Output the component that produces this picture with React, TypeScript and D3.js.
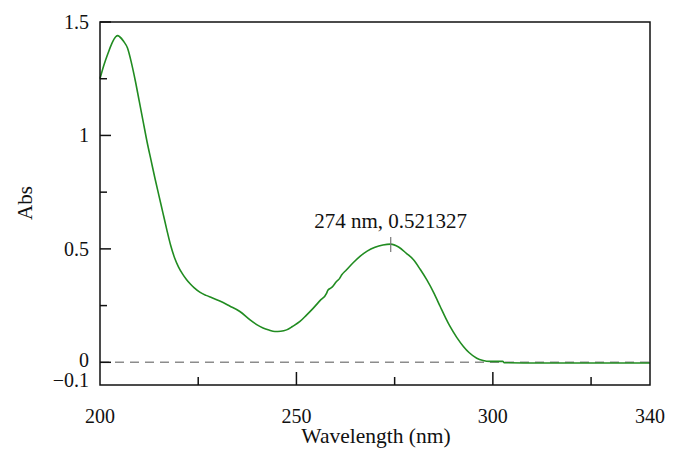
import React from "react";
import * as d3 from "d3";

const wavelengths = [200, 201, 202, 203, 204, 204.5, 205, 206, 207, 208, 209, 210, 211, 212, 213, 214, 215, 216, 217, 218, 219, 220, 221, 222, 223, 224, 225.5, 227, 228.5, 230.5, 233, 235.6, 238.2, 240, 241.5, 243, 244.5, 246, 247.5, 249, 250.9, 252.5, 254.3, 256, 257.7, 258, 259, 260.2, 261, 261.5, 262.7, 264.5, 266.1, 268, 270, 272, 274, 276, 278, 279.8, 281.5, 283.2, 285, 286.6, 288, 289.1, 290.8, 292.5, 294, 295.9, 297.5, 299.3, 300, 302.5, 303, 310, 320, 330, 340];
const absorbance = [1.25, 1.31, 1.36, 1.405, 1.435, 1.44, 1.435, 1.415, 1.385, 1.32, 1.24, 1.15, 1.06, 0.97, 0.89, 0.81, 0.735, 0.66, 0.585, 0.515, 0.46, 0.42, 0.39, 0.365, 0.345, 0.328, 0.308, 0.295, 0.285, 0.27, 0.248, 0.224, 0.187, 0.165, 0.151, 0.142, 0.136, 0.137, 0.143, 0.158, 0.18, 0.207, 0.239, 0.272, 0.305, 0.318, 0.33, 0.356, 0.37, 0.385, 0.407, 0.44, 0.466, 0.49, 0.507, 0.517, 0.521, 0.508, 0.48, 0.452, 0.41, 0.363, 0.305, 0.246, 0.195, 0.158, 0.11, 0.07, 0.042, 0.018, 0.008, 0.004, 0.004, 0.004, -0.002, -0.003, -0.003, -0.003, -0.003];

const xMajorTicks = [200, 250, 300, 340];
const xMinorTicks = [225, 275, 325];
const yMajorTicks = [1.5, 1, 0.5, 0];
const yMinorTicks = [1.25, 0.75, 0.25];
const yTickLabels = ["1.5", "1", "0.5", "0"];
const peakWavelength = 274;
const peakAbs = 0.521327;
const peakLabel = "274 nm, 0.521327";

const font = "'Liberation Serif', 'DejaVu Serif', serif";

export default function App() {
  const W = 679, H = 461;
  const L = 100, R = 650, T = 22, B = 385;
  const x = d3.scaleLinear().domain([200, 340]).range([L, R]);
  const y = d3.scaleLinear().domain([-0.1, 1.5]).range([B, T]);
  const data = wavelengths.map((w, i) => [w, absorbance[i]] as [number, number]);
  const line = d3.line<[number, number]>().x(d => x(d[0])).y(d => y(d[1])).curve(d3.curveMonotoneX);

  return (
    <svg width={W} height={H} style={{ position: "absolute", left: 0, top: 0, background: "#fff" }}>
      <rect x={0} y={0} width={W} height={H} fill="#fff" />
      <line x1={L} x2={R} y1={y(0)} y2={y(0)} stroke="#8c8c8c" strokeWidth={1.5} strokeDasharray="9,6" />
      <path d={line(data) || ""} fill="none" stroke="#218c21" strokeWidth={1.6} />
      <rect x={L} y={T} width={R - L} height={B - T} fill="none" stroke="#111" strokeWidth={1.5} />
      {yMajorTicks.map(t => (
        <line key={"ym" + t} x1={L} x2={L + 11} y1={y(t)} y2={y(t)} stroke="#111" strokeWidth={1.5} />
      ))}
      {yMinorTicks.map(t => (
        <line key={"yn" + t} x1={L} x2={L + 7} y1={y(t)} y2={y(t)} stroke="#111" strokeWidth={1.5} />
      ))}
      {xMajorTicks.slice(1, 3).map(t => (
        <line key={"xm" + t} x1={x(t)} x2={x(t)} y1={B} y2={B - 13} stroke="#111" strokeWidth={1.5} />
      ))}
      {xMinorTicks.map(t => (
        <line key={"xn" + t} x1={x(t)} x2={x(t)} y1={B} y2={B - 8} stroke="#111" strokeWidth={1.5} />
      ))}
      {yMajorTicks.map((t, i) => (
        <text key={"yl" + t} x={89} y={y(t) + (t === 0 ? 5 : 7)} textAnchor="end" fontFamily={font} fontSize={20} fill="#111">{yTickLabels[i]}</text>
      ))}
      <text x={89} y={387} textAnchor="end" fontFamily={font} fontSize={20} fill="#111">−0.1</text>
      {xMajorTicks.map(t => (
        <text key={"xl" + t} x={x(t)} y={423} textAnchor="middle" fontFamily={font} fontSize={20} fill="#111">{t}</text>
      ))}
      <text x={376} y={443} textAnchor="middle" fontFamily={font} fontSize={21.5} fill="#111">Wavelength (nm)</text>
      <text transform="translate(32,203) rotate(-90)" textAnchor="middle" fontFamily={font} fontSize={21} fill="#111">Abs</text>
      <line x1={x(peakWavelength)} x2={x(peakWavelength)} y1={y(peakAbs) - 7} y2={y(peakAbs) + 8} stroke="#777" strokeWidth={1.2} />
      <text x={x(peakWavelength)} y={228} textAnchor="middle" fontFamily={font} fontSize={21} fill="#111">{peakLabel}</text>
    </svg>
  );
}
